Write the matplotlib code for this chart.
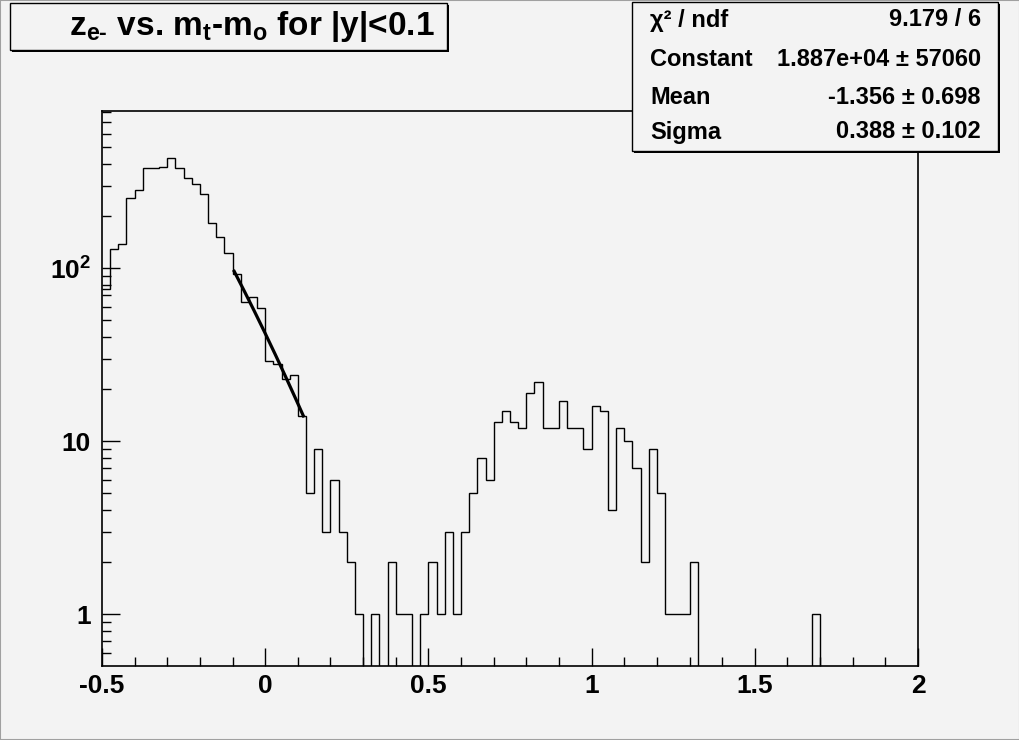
import numpy as np
import matplotlib
matplotlib.use('Agg')
import matplotlib.pyplot as plt
from matplotlib.patches import Rectangle
from matplotlib.ticker import MultipleLocator, LogLocator, NullFormatter, FuncFormatter

plt.rcParams['font.family'] = ['Liberation Sans', 'DejaVu Sans']
plt.rcParams['font.weight'] = 'bold'
plt.rcParams['mathtext.fontset'] = 'custom'
plt.rcParams['mathtext.rm'] = 'Liberation Sans:bold'
plt.rcParams['mathtext.it'] = 'Liberation Sans:bold'
plt.rcParams['mathtext.bf'] = 'Liberation Sans:bold'

# histogram: 100 bins from -0.5 to 2.0
x_lo, x_hi, n_bins = -0.5, 2.0, 100
counts = [76, 129, 138, 254, 284, 378, 378, 383, 432, 378,
          331, 307, 269, 182, 152, 123, 93, 64, 68, 59,
          29, 28, 23, 24, 14, 5, 9, 3, 6, 3,
          2, 1, 0, 1, 0, 2, 1, 1, 0, 1,
          2, 1, 3, 1, 3, 5, 8, 6, 13, 15,
          13, 12, 19, 22, 12, 12, 17, 12, 12, 9,
          16, 15, 4, 12, 10, 7, 2, 9, 5, 1,
          1, 1, 2, 0, 0, 0, 0, 0, 0, 0,
          0, 0, 0, 0, 0, 0, 0, 1, 0, 0,
          0, 0, 0, 0, 0, 0, 0, 0, 0, 0]

# gaussian fit
fit_const, fit_mean, fit_sigma = 1.887e4, -1.356, 0.388
fit_range = (-0.095, 0.117)

title = r'z$_{e\text{-}}$ vs. m$_{t}$-m$_{o}$ for |y|<0.1'
stat_names = ['χ² / ndf', 'Constant', 'Mean', 'Sigma']
stat_values = ['9.179 / 6', '1.887e+04 ± 57060', '-1.356 ± 0.698', '0.388 ± 0.102']

bg = '#f3f3f3'
W, H = 1020, 740

fig = plt.figure(figsize=(W / 100, H / 100), dpi=100, facecolor=bg)
ax = fig.add_axes([0.1, 0.1, 0.8, 0.75], facecolor=bg)

edges = np.linspace(x_lo, x_hi, n_bins + 1)
c = np.array(counts, dtype=float)
c_draw = np.where(c > 0, c, 1e-3)
ax.stairs(c_draw, edges, color='black', lw=1.0, baseline=None)

xf = np.linspace(fit_range[0], fit_range[1], 200)
yf = fit_const * np.exp(-0.5 * ((xf - fit_mean) / fit_sigma) ** 2)
ax.plot(xf, yf, color='black', lw=2.3)

ax.set_yscale('log')
ax.set_xlim(x_lo, x_hi)
ax.set_ylim(0.502, 811)

ax.xaxis.set_major_locator(MultipleLocator(0.5))
ax.xaxis.set_minor_locator(MultipleLocator(0.1))
ax.xaxis.set_major_formatter(FuncFormatter(lambda v, p: '%g' % v))
ax.yaxis.set_major_locator(LogLocator(base=10))
ax.yaxis.set_minor_locator(LogLocator(base=10, subs=np.arange(2, 10)))
ax.yaxis.set_minor_formatter(NullFormatter())
ylab = {1: '1', 10: '10', 100: r'10$^{2}$'}
ax.yaxis.set_major_formatter(FuncFormatter(lambda v, p: ylab.get(int(round(v)), '')))

ax.tick_params(which='major', direction='in', length=13, width=1, labelsize=19, pad=6)
ax.tick_params(which='minor', direction='in', length=6.5, width=1)
ax.tick_params(axis='y', which='major', pad=8)
for lab in ax.get_xticklabels() + ax.get_yticklabels():
    lab.set_fontweight('bold')
for s in ax.spines.values():
    s.set_linewidth(1.2)


def fx(px):
    return px / W


def fy(py):
    return 1 - py / H


# title box
fig.patches.append(Rectangle((fx(12), fy(51.5)), fx(437), 46.5 / H, transform=fig.transFigure,
                             fc='black', ec='black', lw=0, zorder=1))
fig.patches.append(Rectangle((fx(10), fy(49.5)), fx(437), 46.5 / H, transform=fig.transFigure,
                             fc=bg, ec='black', lw=1, zorder=2))
fig.text(fx(252), fy(27), title, fontsize=24, fontweight='bold', ha='center', va='center', zorder=3)

# stat box
fig.patches.append(Rectangle((fx(634), fy(153)), fx(366), 149 / H, transform=fig.transFigure,
                             fc='black', ec='black', lw=0, zorder=1))
fig.patches.append(Rectangle((fx(632), fy(151)), fx(366), 149 / H, transform=fig.transFigure,
                             fc=bg, ec='black', lw=1, zorder=2))
row_y = [20, 59, 97, 132]
for name, val, yy in zip(stat_names, stat_values, row_y):
    fig.text(fx(650), fy(yy), name, fontsize=17, fontweight='bold', ha='left', va='center', zorder=3)
    fig.text(fx(981), fy(yy), val, fontsize=17, fontweight='bold', ha='right', va='center', zorder=3)

# canvas border
fig.patches.append(Rectangle((0, 0), 1, 1, transform=fig.transFigure, fill=False,
                             ec='#a0a0a0', lw=1.5, zorder=0))

fig.savefig('out.png', dpi=100, facecolor=bg)
